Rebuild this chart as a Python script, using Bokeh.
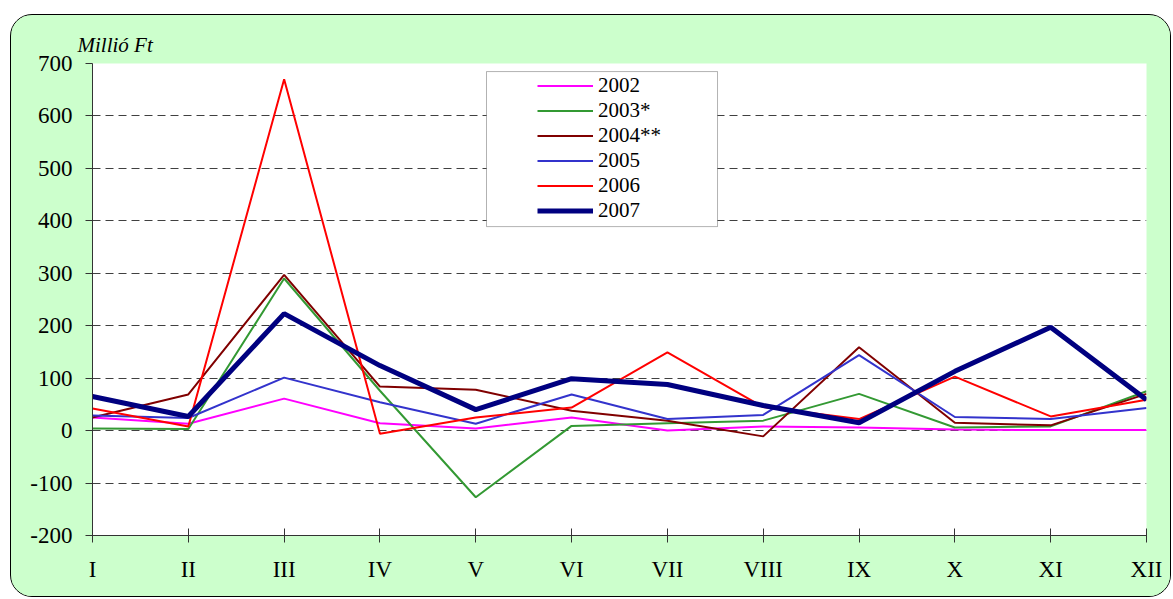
from bokeh.plotting import figure
from bokeh.models import Range1d, FixedTicker, BoxAnnotation, PrintfTickFormatter
from bokeh.embed import file_html
from bokeh.resources import INLINE

months = ["I", "II", "III", "IV", "V", "VI", "VII", "VIII", "IX", "X", "XI", "XII"]
y_ticks = [-200, -100, 0, 100, 200, 300, 400, 500, 600, 700]

v2002 = [25, 13, 61, 14, 4, 25, 0, 8, 6, 2, 1, 1]
v2003 = [4, 3, 290, 76, -127, 9, 14, 19, 70, 6, 8, 75]
v2004 = [25, 69, 297, 84, 78, 38, 19, -11, 159, 15, 10, 70]
v2005 = [29, 24, 101, 54, 13, 69, 22, 30, 144, 26, 22, 43]
v2006 = [42, 8, 670, -6, 25, 44, 149, 45, 22, 103, 27, 59]
v2007 = [65, 27, 223, 124, 40, 99, 88, 48, 15, 113, 197, 59]

series = [
    ("2002", v2002, "#FF00FF", 2),
    ("2003*", v2003, "#339933", 2),
    ("2004**", v2004, "#800000", 2),
    ("2005", v2005, "#3333CC", 2),
    ("2006", v2006, "#FF0000", 2),
    ("2007", v2007, "#000080", 5),
]

FONT = "'Liberation Serif', 'Times New Roman', serif"
xs = list(range(1, len(months) + 1))

p = figure(width=1161, height=583, output_backend="svg", toolbar_location=None,
           x_range=Range1d(1, 12), y_range=Range1d(-200, 700),
           title="Millió Ft",
           min_border_left=81, min_border_top=48, min_border_right=26, min_border_bottom=63)
p.margin = (14, 0, 0, 10)
p.styles = {"border": "1px solid black", "border-radius": "22px",
            "overflow": "hidden", "background-color": "#CCFFCC"}

p.border_fill_color = "#CCFFCC"
p.background_fill_color = "white"
p.outline_line_color = None

p.title.text_font = FONT
p.title.text_font_style = "italic"
p.title.text_font_size = "21px"
p.title.text_color = "black"
p.title.align = "left"
p.title.offset = -15
p.title.standoff = 14

# legend frame
p.add_layout(BoxAnnotation(left=5.112, right=7.523, top=684.6, bottom=389,
                           fill_color="white", fill_alpha=1,
                           line_color="black", line_width=1, level="overlay"))

for name, vals, color, lw in series:
    p.line(xs, vals, line_color=color, line_width=lw, legend_label=name)

p.xaxis.ticker = FixedTicker(ticks=xs)
p.xaxis.major_label_overrides = {i: m for i, m in zip(xs, months)}
p.yaxis.ticker = FixedTicker(ticks=y_ticks)
p.yaxis.formatter = PrintfTickFormatter(format="%d")

for ax in (p.xaxis, p.yaxis):
    ax.axis_line_color = "#333333"
    ax.major_tick_line_color = "#333333"
    ax.minor_tick_line_color = None
    ax.major_label_text_font = FONT
    ax.major_label_text_font_size = "23px"
    ax.major_label_text_color = "black"

p.xaxis.major_tick_in = 7
p.xaxis.major_tick_out = 7
p.xaxis.major_label_standoff = 14
p.yaxis.major_tick_in = 0
p.yaxis.major_tick_out = 7
p.yaxis.major_label_standoff = 13

p.xgrid.grid_line_color = None
p.ygrid.grid_line_color = "#404040"
p.ygrid.grid_line_dash = "8 5"
p.ygrid.grid_line_width = 1

lg = p.legend[0]
lg.location = (445, 312)
lg.margin = 0
lg.padding = 0
lg.spacing = 0
lg.border_line_alpha = 0
lg.background_fill_alpha = 0
lg.glyph_width = 56
lg.glyph_height = 25
lg.label_height = 25
lg.label_standoff = 5
lg.label_text_font = FONT
lg.label_text_font_size = "21px"
lg.label_text_color = "black"

open("out.html", "w").write(file_html(p, INLINE))
